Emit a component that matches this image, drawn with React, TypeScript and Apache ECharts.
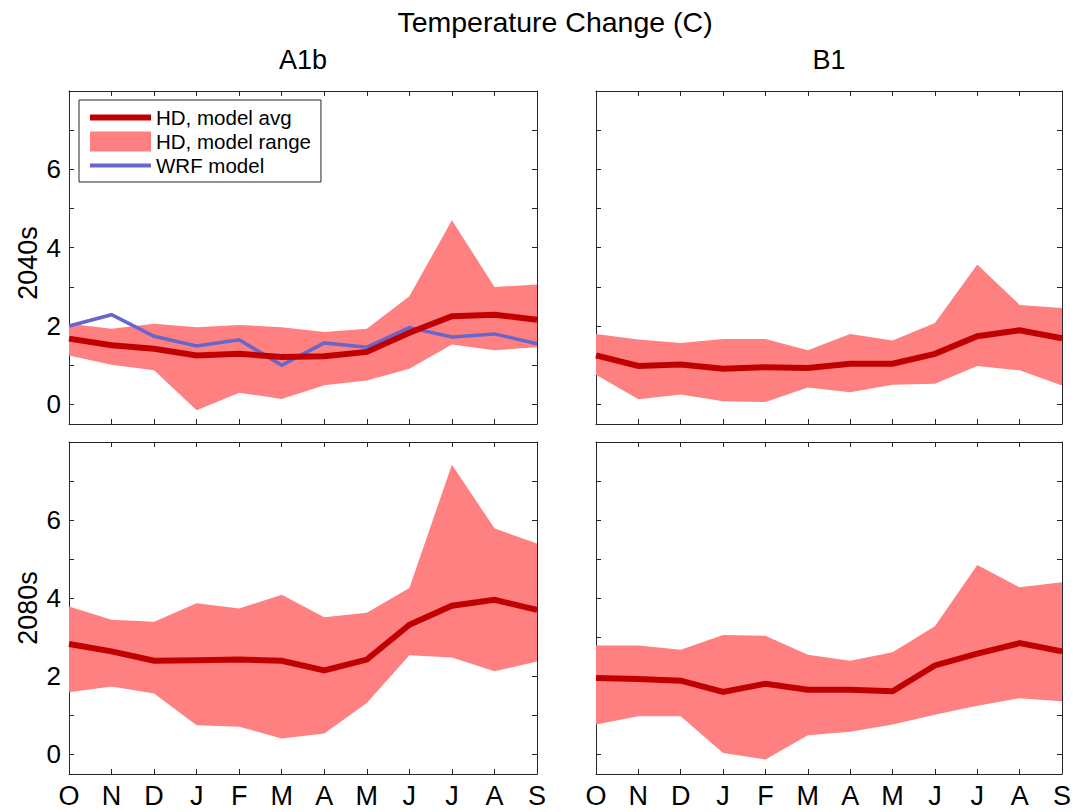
import React, { useEffect, useRef } from 'react';
import * as echarts from 'echarts';

const months = ['O', 'N', 'D', 'J', 'F', 'M', 'A', 'M', 'J', 'J', 'A', 'S'];
const yTickValues = [0, 1, 2, 3, 4, 5, 6, 7];
const yLabelValues = [0, 2, 4, 6];

const a1b2040Upper = [2.06, 1.93, 2.06, 1.97, 2.03, 1.97, 1.85, 1.93, 2.76, 4.7, 3.0, 3.06];
const a1b2040Lower = [1.25, 1.01, 0.87, -0.15, 0.3, 0.14, 0.49, 0.61, 0.91, 1.53, 1.38, 1.46];
const a1b2040Avg = [1.68, 1.51, 1.42, 1.25, 1.29, 1.21, 1.23, 1.34, 1.83, 2.25, 2.29, 2.16];
const a1b2040Wrf = [2.0, 2.29, 1.74, 1.49, 1.65, 1.0, 1.57, 1.46, 1.96, 1.72, 1.8, 1.55];

const b12040Upper = [1.8, 1.66, 1.57, 1.67, 1.67, 1.38, 1.8, 1.63, 2.08, 3.57, 2.54, 2.46];
const b12040Lower = [0.76, 0.13, 0.25, 0.08, 0.06, 0.43, 0.31, 0.5, 0.53, 0.98, 0.87, 0.48];
const b12040Avg = [1.25, 0.98, 1.02, 0.91, 0.95, 0.93, 1.04, 1.04, 1.29, 1.74, 1.89, 1.69];

const a1b2080Upper = [3.79, 3.45, 3.4, 3.87, 3.74, 4.09, 3.51, 3.63, 4.26, 7.42, 5.79, 5.4];
const a1b2080Lower = [1.59, 1.74, 1.56, 0.75, 0.71, 0.41, 0.54, 1.32, 2.54, 2.48, 2.13, 2.38];
const a1b2080Avg = [2.83, 2.64, 2.4, 2.41, 2.43, 2.4, 2.15, 2.43, 3.32, 3.81, 3.96, 3.7];

const b12080Upper = [2.79, 2.79, 2.68, 3.06, 3.04, 2.55, 2.4, 2.62, 3.28, 4.85, 4.28, 4.41];
const b12080Lower = [0.77, 0.98, 0.98, 0.04, -0.13, 0.49, 0.58, 0.77, 1.02, 1.25, 1.44, 1.36];
const b12080Avg = [1.96, 1.93, 1.89, 1.6, 1.81, 1.66, 1.66, 1.62, 2.28, 2.58, 2.85, 2.64];

const FONT = '"Liberation Sans", Arial, Helvetica, sans-serif';
const AXIS_COLOR = '#262626';
const AVG_COLOR = '#c00000';
const RANGE_COLOR = '#ff8080';
const WRF_COLOR = '#6666cc';

const NAME_AVG = 'HD, model avg';
const NAME_RANGE = 'HD, model range';
const NAME_WRF = 'WRF model';

type Panel = {
  grid: { left: number; top: number; width: number; height: number };
  upper: number[];
  lower: number[];
  avg: number[];
  wrf?: number[];
  showX: boolean;
  showY: boolean;
};

const panels: Panel[] = [
  { grid: { left: 69, top: 91, width: 468, height: 333 }, upper: a1b2040Upper, lower: a1b2040Lower, avg: a1b2040Avg, wrf: a1b2040Wrf, showX: false, showY: true },
  { grid: { left: 596, top: 91, width: 466, height: 333 }, upper: b12040Upper, lower: b12040Lower, avg: b12040Avg, showX: false, showY: false },
  { grid: { left: 69, top: 442, width: 468, height: 332 }, upper: a1b2080Upper, lower: a1b2080Lower, avg: a1b2080Avg, showX: true, showY: true },
  { grid: { left: 596, top: 442, width: 466, height: 332 }, upper: b12080Upper, lower: b12080Lower, avg: b12080Avg, showX: true, showY: false },
];

function buildOption() {
  const grid: any[] = [];
  const xAxis: any[] = [];
  const yAxis: any[] = [];
  const series: any[] = [];

  const axisLine = { show: true, onZero: false, lineStyle: { color: AXIS_COLOR, width: 1 } };
  const tick = { show: true, inside: true, length: 5, lineStyle: { color: AXIS_COLOR, width: 1 } };

  panels.forEach((p, i) => {
    grid.push({ ...p.grid, containLabel: false });
    const xi = xAxis.length;
    xAxis.push({
      type: 'category', gridIndex: i, data: months, boundaryGap: false, position: 'bottom',
      axisLine, axisTick: { ...tick, interval: 0 },
      axisLabel: { show: p.showX, interval: 0, color: '#000', fontSize: 27, fontFamily: FONT, margin: 8 },
      splitLine: { show: false },
    });
    xAxis.push({
      type: 'category', gridIndex: i, data: months, boundaryGap: false, position: 'top',
      axisLine, axisTick: { ...tick, interval: 0 }, axisLabel: { show: false }, splitLine: { show: false },
    });
    const yi = yAxis.length;
    yAxis.push({
      type: 'value', gridIndex: i, min: -0.5, max: 8, position: 'left',
      axisLine, axisTick: { ...tick, customValues: yTickValues },
      axisLabel: { show: p.showY, customValues: yLabelValues, color: '#000', fontSize: 26, fontFamily: FONT, margin: 8 },
      splitLine: { show: false },
    });
    yAxis.push({
      type: 'value', gridIndex: i, min: -0.5, max: 8, position: 'right',
      axisLine, axisTick: { ...tick, customValues: yTickValues }, axisLabel: { show: false }, splitLine: { show: false },
    });

    const stackId = 'band' + i;
    series.push({
      type: 'line', name: 'lower' + i, xAxisIndex: xi, yAxisIndex: yi,
      data: p.lower, stack: stackId, stackStrategy: 'all', symbol: 'none', silent: true,
      lineStyle: { width: 0, opacity: 0 }, z: 1,
    });
    series.push({
      type: 'line', name: NAME_RANGE, xAxisIndex: xi, yAxisIndex: yi,
      data: p.upper.map((u, k) => u - p.lower[k]), stack: stackId, stackStrategy: 'all', symbol: 'none', silent: true,
      itemStyle: { color: RANGE_COLOR }, lineStyle: { width: 0, opacity: 0 },
      areaStyle: { color: RANGE_COLOR, opacity: 1 }, z: 1,
    });
    if (p.wrf) {
      series.push({
        type: 'line', name: NAME_WRF, xAxisIndex: xi, yAxisIndex: yi,
        data: p.wrf, symbol: 'none', silent: true,
        itemStyle: { color: WRF_COLOR }, lineStyle: { color: WRF_COLOR, width: 3.5, join: 'miter' }, z: 2,
      });
    }
    series.push({
      type: 'line', name: NAME_AVG, xAxisIndex: xi, yAxisIndex: yi,
      data: p.avg, symbol: 'none', silent: true,
      itemStyle: { color: AVG_COLOR }, lineStyle: { color: AVG_COLOR, width: 6, join: 'miter' }, z: 3,
    });
  });

  return {
    animation: false,
    backgroundColor: '#fff',
    grid, xAxis, yAxis, series,
    legend: {
      left: 79, top: 100, orient: 'vertical',
      data: [
        { name: NAME_AVG, icon: 'path://M0,0H60V6H0Z' },
        { name: NAME_RANGE, icon: 'rect' },
        { name: NAME_WRF, icon: 'path://M0,0H60V4H0Z' },
      ],
      itemWidth: 61, itemHeight: 20, itemGap: 3,
      padding: [7, 10, 6, 11],
      borderColor: AXIS_COLOR, borderWidth: 1, backgroundColor: '#fff',
      selectedMode: false,
      itemStyle: { borderWidth: 0 },
      textStyle: { color: '#000', fontSize: 20.5, fontFamily: FONT },
      z: 10,
    },
    graphic: [
      { type: 'text', x: 555, y: 22, style: { text: 'Temperature Change (C)', fill: '#000', font: '28.5px ' + FONT, textAlign: 'center', textVerticalAlign: 'middle' } },
      { type: 'text', x: 303, y: 60, style: { text: 'A1b', fill: '#000', font: '27px ' + FONT, textAlign: 'center', textVerticalAlign: 'middle' } },
      { type: 'text', x: 829, y: 60, style: { text: 'B1', fill: '#000', font: '27px ' + FONT, textAlign: 'center', textVerticalAlign: 'middle' } },
      { type: 'text', x: 28, y: 263, rotation: Math.PI / 2, style: { text: '2040s', fill: '#000', font: '27px ' + FONT, textAlign: 'center', textVerticalAlign: 'middle' } },
      { type: 'text', x: 28, y: 608, rotation: Math.PI / 2, style: { text: '2080s', fill: '#000', font: '27px ' + FONT, textAlign: 'center', textVerticalAlign: 'middle' } },
    ],
  };
}

export default function App() {
  const ref = useRef<HTMLDivElement>(null);
  useEffect(() => {
    document.body.style.margin = '0';
    const chart = echarts.init(ref.current as HTMLDivElement, undefined, { renderer: 'svg' });
    chart.setOption(buildOption() as any);
    return () => chart.dispose();
  }, []);
  return <div ref={ref} style={{ width: 1075, height: 812 }} />;
}
